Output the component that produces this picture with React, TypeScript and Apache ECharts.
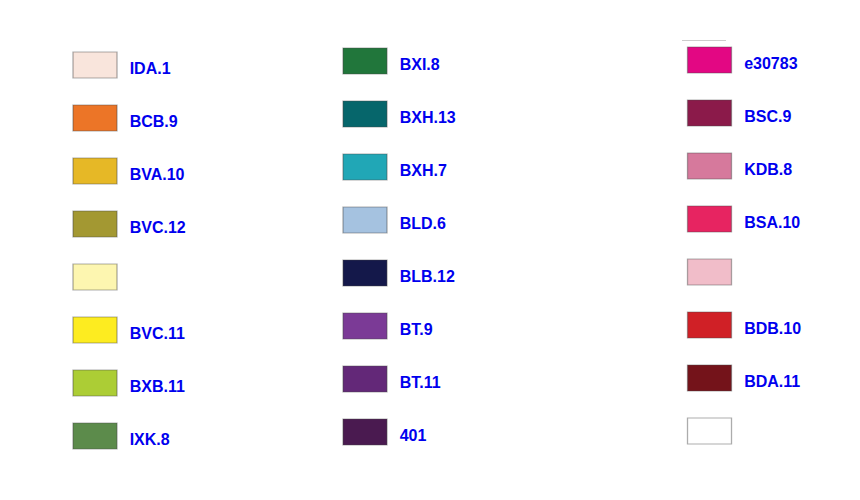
import React, { useEffect, useRef } from "react";
import * as echarts from "echarts";

const rows = ["r1", "r2", "r3", "r4", "r5", "r6", "r7", "r8"];

const col1Labels = ["IDA.1", "BCB.9", "BVA.10", "BVC.12", "", "BVC.11", "BXB.11", "IXK.8"];
const col1Colors = ["#f9e5dc", "#ec7527", "#e6b826", "#a39832", "#fdf6b0", "#fdec20", "#accd35", "#5c8b4b"];

const col2Labels = ["BXI.8", "BXH.13", "BXH.7", "BLD.6", "BLB.12", "BT.9", "BT.11", "401"];
const col2Colors = ["#21763b", "#06666b", "#21a7b6", "#a5c2e0", "#14184a", "#7b3a96", "#632878", "#4a1a50"];

const col3Labels = ["e30783", "BSC.9", "KDB.8", "BSA.10", "", "BDB.10", "BDA.11", ""];
const col3Colors = ["#e30783", "#8b1a4a", "#d6799c", "#e72461", "#f1bdc9", "#d02026", "#74131a", "#ffffff"];

const OFF = 8; // body margin
const columns = [
  { labels: col1Labels, colors: col1Colors, center: 95 - OFF, firstRow: 65 - OFF },
  { labels: col2Labels, colors: col2Colors, center: 365 - OFF, firstRow: 61 - OFF },
  { labels: col3Labels, colors: col3Colors, center: 709.5 - OFF, firstRow: 60 - OFF },
];

const ROW_STEP = 53;

export default function App() {
  const ref = useRef<HTMLDivElement>(null);
  useEffect(() => {
    if (!ref.current) return;
    const chart = echarts.init(ref.current, null, { renderer: "svg" });
    const grids: any[] = [];
    const xAxes: any[] = [];
    const yAxes: any[] = [];
    const series: any[] = [];
    columns.forEach((col, k) => {
      grids.push({
        left: col.center - 20,
        width: 40,
        top: col.firstRow - ROW_STEP / 2,
        height: ROW_STEP * rows.length,
      });
      xAxes.push({ gridIndex: k, type: "value", min: -1, max: 1, show: false });
      yAxes.push({
        gridIndex: k,
        type: "category",
        data: rows,
        inverse: true,
        show: false,
      });
      series.push({
        type: "scatter",
        xAxisIndex: k,
        yAxisIndex: k,
        symbol: "rect",
        symbolSize: [44, 26],
        data: rows.map((r, i) => ({
          value: [0, r],
          name: col.labels[i],
          itemStyle: {
            color: col.colors[i],
            opacity: 1,
            borderColor: "rgba(70,70,70,0.45)",
            borderWidth: 1,
          },
        })),
        label: {
          show: true,
          position: "right",
          distance: 12,
          offset: [0, 3],
          formatter: (p: any) => p.name,
          color: "#0000ee",
          fontFamily: "Liberation Sans, Arial, sans-serif",
          fontWeight: "bold",
          fontSize: 16,
        },
        emphasis: { disabled: true },
      });
    });
    chart.setOption({
      animation: false,
      backgroundColor: "#ffffff",
      grid: grids,
      xAxis: xAxes,
      yAxis: yAxes,
      series,
      graphic: [
        {
          type: "line",
          shape: { x1: 682 - OFF, y1: 40.5 - OFF, x2: 726 - OFF, y2: 40.5 - OFF },
          style: { stroke: "#cccccc", lineWidth: 1 },
        },
      ],
    });
    return () => chart.dispose();
  }, []);
  return <div ref={ref} style={{ width: 860, height: 500 }} />;
}
